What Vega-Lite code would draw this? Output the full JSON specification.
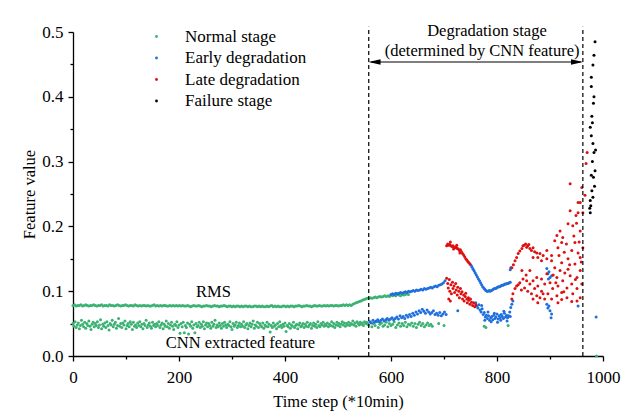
{
"$schema":"https://vega.github.io/schema/vega-lite/v6.json",
"width":530,"height":324,
"autosize":"none",
"padding":{"left":73,"top":32,"right":24,"bottom":64},
"background":"white",
"config":{"font":"Liberation Serif","view":{"stroke":null},
"axis":{"grid":false,"domainColor":"black","tickColor":"black","labelColor":"black","titleColor":"black","labelFont":"Liberation Serif","titleFont":"Liberation Serif","labelFontSize":17,"titleFontSize":16.5,"titleFontWeight":"normal","domainWidth":1.3,"tickWidth":1.3,"labelOverlap":false,"labelFlush":false},
"legend":{"labelFont":"Liberation Serif"},"text":{"font":"Liberation Serif"}},
"datasets":{
"pts":[
{"t":0,"v":0.078,"s":"N"},{"t":3,"v":0.079,"s":"N"},{"t":6,"v":0.077,"s":"N"},{"t":9,"v":0.078,"s":"N"},{"t":12,"v":0.078,"s":"N"},{"t":15,"v":0.079,"s":"N"},{"t":18,"v":0.077,"s":"N"},{"t":21,"v":0.078,"s":"N"},{"t":24,"v":0.079,"s":"N"},{"t":27,"v":0.078,"s":"N"},{"t":30,"v":0.077,"s":"N"},{"t":33,"v":0.078,"s":"N"},{"t":36,"v":0.078,"s":"N"},{"t":39,"v":0.079,"s":"N"},{"t":42,"v":0.078,"s":"N"},{"t":45,"v":0.077,"s":"N"},{"t":48,"v":0.078,"s":"N"},{"t":51,"v":0.078,"s":"N"},{"t":54,"v":0.079,"s":"N"},{"t":57,"v":0.077,"s":"N"},{"t":60,"v":0.078,"s":"N"},{"t":63,"v":0.078,"s":"N"},{"t":66,"v":0.077,"s":"N"},{"t":69,"v":0.079,"s":"N"},{"t":72,"v":0.078,"s":"N"},{"t":75,"v":0.078,"s":"N"},{"t":78,"v":0.077,"s":"N"},{"t":81,"v":0.078,"s":"N"},{"t":84,"v":0.079,"s":"N"},{"t":87,"v":0.078,"s":"N"},{"t":90,"v":0.077,"s":"N"},{"t":93,"v":0.078,"s":"N"},{"t":96,"v":0.078,"s":"N"},{"t":99,"v":0.079,"s":"N"},
{"t":102,"v":0.078,"s":"N"},{"t":105,"v":0.077,"s":"N"},{"t":108,"v":0.078,"s":"N"},{"t":111,"v":0.078,"s":"N"},{"t":114,"v":0.077,"s":"N"},{"t":117,"v":0.079,"s":"N"},{"t":120,"v":0.078,"s":"N"},{"t":123,"v":0.077,"s":"N"},{"t":126,"v":0.078,"s":"N"},{"t":129,"v":0.077,"s":"N"},{"t":132,"v":0.078,"s":"N"},{"t":135,"v":0.078,"s":"N"},{"t":138,"v":0.077,"s":"N"},{"t":141,"v":0.078,"s":"N"},{"t":144,"v":0.077,"s":"N"},{"t":147,"v":0.077,"s":"N"},{"t":150,"v":0.078,"s":"N"},{"t":153,"v":0.079,"s":"N"},{"t":156,"v":0.077,"s":"N"},{"t":159,"v":0.078,"s":"N"},{"t":162,"v":0.077,"s":"N"},{"t":165,"v":0.078,"s":"N"},{"t":168,"v":0.077,"s":"N"},{"t":171,"v":0.078,"s":"N"},{"t":174,"v":0.078,"s":"N"},{"t":177,"v":0.077,"s":"N"},{"t":180,"v":0.077,"s":"N"},{"t":183,"v":0.078,"s":"N"},{"t":186,"v":0.077,"s":"N"},{"t":189,"v":0.078,"s":"N"},{"t":192,"v":0.077,"s":"N"},{"t":195,"v":0.078,"s":"N"},{"t":198,"v":0.077,"s":"N"},{"t":201,"v":0.078,"s":"N"},
{"t":204,"v":0.077,"s":"N"},{"t":207,"v":0.078,"s":"N"},{"t":210,"v":0.077,"s":"N"},{"t":213,"v":0.077,"s":"N"},{"t":216,"v":0.078,"s":"N"},{"t":219,"v":0.077,"s":"N"},{"t":222,"v":0.076,"s":"N"},{"t":225,"v":0.077,"s":"N"},{"t":228,"v":0.078,"s":"N"},{"t":231,"v":0.077,"s":"N"},{"t":234,"v":0.077,"s":"N"},{"t":237,"v":0.078,"s":"N"},{"t":240,"v":0.077,"s":"N"},{"t":243,"v":0.076,"s":"N"},{"t":246,"v":0.077,"s":"N"},{"t":249,"v":0.077,"s":"N"},{"t":252,"v":0.078,"s":"N"},{"t":255,"v":0.077,"s":"N"},{"t":258,"v":0.077,"s":"N"},{"t":261,"v":0.076,"s":"N"},{"t":264,"v":0.077,"s":"N"},{"t":267,"v":0.078,"s":"N"},{"t":270,"v":0.077,"s":"N"},{"t":273,"v":0.077,"s":"N"},{"t":276,"v":0.076,"s":"N"},{"t":279,"v":0.077,"s":"N"},{"t":282,"v":0.077,"s":"N"},{"t":285,"v":0.078,"s":"N"},{"t":288,"v":0.077,"s":"N"},{"t":291,"v":0.076,"s":"N"},{"t":294,"v":0.077,"s":"N"},{"t":297,"v":0.077,"s":"N"},{"t":300,"v":0.076,"s":"N"},
{"t":303,"v":0.077,"s":"N"},{"t":306,"v":0.076,"s":"N"},{"t":309,"v":0.077,"s":"N"},{"t":312,"v":0.077,"s":"N"},{"t":315,"v":0.076,"s":"N"},{"t":318,"v":0.077,"s":"N"},{"t":321,"v":0.076,"s":"N"},{"t":324,"v":0.077,"s":"N"},{"t":327,"v":0.077,"s":"N"},{"t":330,"v":0.076,"s":"N"},{"t":333,"v":0.077,"s":"N"},{"t":336,"v":0.076,"s":"N"},{"t":339,"v":0.076,"s":"N"},{"t":342,"v":0.077,"s":"N"},{"t":345,"v":0.077,"s":"N"},{"t":348,"v":0.076,"s":"N"},{"t":351,"v":0.077,"s":"N"},{"t":354,"v":0.076,"s":"N"},{"t":357,"v":0.077,"s":"N"},{"t":360,"v":0.076,"s":"N"},{"t":363,"v":0.076,"s":"N"},{"t":366,"v":0.077,"s":"N"},{"t":369,"v":0.076,"s":"N"},{"t":372,"v":0.077,"s":"N"},{"t":375,"v":0.078,"s":"N"},{"t":378,"v":0.076,"s":"N"},{"t":381,"v":0.077,"s":"N"},{"t":384,"v":0.076,"s":"N"},{"t":387,"v":0.077,"s":"N"},{"t":390,"v":0.076,"s":"N"},{"t":393,"v":0.076,"s":"N"},{"t":396,"v":0.077,"s":"N"},{"t":399,"v":0.077,"s":"N"},{"t":402,"v":0.076,"s":"N"},
{"t":405,"v":0.077,"s":"N"},{"t":408,"v":0.076,"s":"N"},{"t":411,"v":0.077,"s":"N"},{"t":414,"v":0.077,"s":"N"},{"t":417,"v":0.076,"s":"N"},{"t":420,"v":0.077,"s":"N"},{"t":423,"v":0.077,"s":"N"},{"t":426,"v":0.078,"s":"N"},{"t":429,"v":0.077,"s":"N"},{"t":432,"v":0.076,"s":"N"},{"t":435,"v":0.077,"s":"N"},{"t":438,"v":0.077,"s":"N"},{"t":441,"v":0.078,"s":"N"},{"t":444,"v":0.077,"s":"N"},{"t":447,"v":0.077,"s":"N"},{"t":450,"v":0.076,"s":"N"},{"t":453,"v":0.077,"s":"N"},{"t":456,"v":0.078,"s":"N"},{"t":459,"v":0.077,"s":"N"},{"t":462,"v":0.077,"s":"N"},{"t":465,"v":0.078,"s":"N"},{"t":468,"v":0.077,"s":"N"},{"t":471,"v":0.077,"s":"N"},{"t":474,"v":0.078,"s":"N"},{"t":477,"v":0.077,"s":"N"},{"t":480,"v":0.078,"s":"N"},{"t":483,"v":0.077,"s":"N"},{"t":486,"v":0.078,"s":"N"},{"t":489,"v":0.078,"s":"N"},{"t":492,"v":0.077,"s":"N"},{"t":495,"v":0.078,"s":"N"},{"t":498,"v":0.078,"s":"N"},{"t":501,"v":0.077,"s":"N"},
{"t":504,"v":0.078,"s":"N"},{"t":507,"v":0.078,"s":"N"},{"t":510,"v":0.079,"s":"N"},{"t":513,"v":0.078,"s":"N"},{"t":516,"v":0.079,"s":"N"},{"t":519,"v":0.078,"s":"N"},{"t":522,"v":0.079,"s":"N"},{"t":525,"v":0.078,"s":"N"},{"t":528,"v":0.080,"s":"N"},{"t":531,"v":0.081,"s":"N"},{"t":534,"v":0.082,"s":"N"},{"t":537,"v":0.083,"s":"N"},{"t":540,"v":0.084,"s":"N"},{"t":543,"v":0.085,"s":"N"},{"t":546,"v":0.086,"s":"N"},{"t":549,"v":0.087,"s":"N"},{"t":552,"v":0.088,"s":"N"},{"t":555,"v":0.089,"s":"N"},
{"t":558,"v":0.089,"s":"N"},{"t":561,"v":0.090,"s":"N"},{"t":564,"v":0.089,"s":"N"},{"t":567,"v":0.090,"s":"N"},{"t":570,"v":0.091,"s":"N"},{"t":573,"v":0.090,"s":"N"},{"t":576,"v":0.091,"s":"N"},{"t":579,"v":0.092,"s":"N"},{"t":582,"v":0.091,"s":"N"},{"t":585,"v":0.092,"s":"N"},{"t":588,"v":0.093,"s":"N"},{"t":591,"v":0.092,"s":"N"},{"t":594,"v":0.093,"s":"N"},{"t":597,"v":0.092,"s":"N"},{"t":600,"v":0.094,"s":"N"},{"t":603,"v":0.093,"s":"N"},{"t":606,"v":0.094,"s":"N"},{"t":609,"v":0.093,"s":"N"},{"t":612,"v":0.095,"s":"N"},{"t":615,"v":0.094,"s":"N"},{"t":618,"v":0.093,"s":"N"},{"t":621,"v":0.095,"s":"N"},{"t":624,"v":0.094,"s":"N"},{"t":627,"v":0.095,"s":"N"},{"t":630,"v":0.096,"s":"N"},{"t":633,"v":0.095,"s":"N"},
{"t":0,"v":0.050,"s":"N"},{"t":2,"v":0.046,"s":"N"},{"t":4,"v":0.053,"s":"N"},{"t":6,"v":0.044,"s":"N"},{"t":8,"v":0.048,"s":"N"},{"t":10,"v":0.051,"s":"N"},{"t":12,"v":0.042,"s":"N"},{"t":14,"v":0.047,"s":"N"},{"t":16,"v":0.055,"s":"N"},{"t":18,"v":0.049,"s":"N"},{"t":20,"v":0.045,"s":"N"},{"t":22,"v":0.052,"s":"N"},{"t":24,"v":0.043,"s":"N"},{"t":26,"v":0.050,"s":"N"},{"t":28,"v":0.047,"s":"N"},{"t":30,"v":0.054,"s":"N"},{"t":32,"v":0.046,"s":"N"},{"t":34,"v":0.041,"s":"N"},{"t":36,"v":0.049,"s":"N"},{"t":38,"v":0.052,"s":"N"},
{"t":40,"v":0.045,"s":"N"},{"t":42,"v":0.050,"s":"N"},{"t":44,"v":0.047,"s":"N"},{"t":46,"v":0.053,"s":"N"},{"t":48,"v":0.044,"s":"N"},{"t":50,"v":0.048,"s":"N"},{"t":52,"v":0.056,"s":"N"},{"t":54,"v":0.042,"s":"N"},{"t":56,"v":0.049,"s":"N"},{"t":58,"v":0.046,"s":"N"},{"t":60,"v":0.051,"s":"N"},{"t":62,"v":0.044,"s":"N"},{"t":64,"v":0.053,"s":"N"},{"t":66,"v":0.047,"s":"N"},{"t":68,"v":0.040,"s":"N"},{"t":70,"v":0.050,"s":"N"},{"t":72,"v":0.048,"s":"N"},{"t":74,"v":0.055,"s":"N"},{"t":76,"v":0.045,"s":"N"},{"t":78,"v":0.049,"s":"N"},
{"t":80,"v":0.052,"s":"N"},{"t":82,"v":0.043,"s":"N"},{"t":84,"v":0.047,"s":"N"},{"t":86,"v":0.058,"s":"N"},{"t":88,"v":0.046,"s":"N"},{"t":90,"v":0.050,"s":"N"},{"t":92,"v":0.044,"s":"N"},{"t":94,"v":0.051,"s":"N"},{"t":96,"v":0.048,"s":"N"},{"t":98,"v":0.054,"s":"N"},{"t":100,"v":0.042,"s":"N"},{"t":102,"v":0.047,"s":"N"},{"t":104,"v":0.050,"s":"N"},{"t":106,"v":0.045,"s":"N"},{"t":108,"v":0.053,"s":"N"},{"t":110,"v":0.049,"s":"N"},{"t":112,"v":0.041,"s":"N"},{"t":114,"v":0.052,"s":"N"},{"t":116,"v":0.046,"s":"N"},{"t":118,"v":0.048,"s":"N"},
{"t":120,"v":0.044,"s":"N"},{"t":122,"v":0.051,"s":"N"},{"t":124,"v":0.047,"s":"N"},{"t":126,"v":0.053,"s":"N"},{"t":128,"v":0.045,"s":"N"},{"t":130,"v":0.049,"s":"N"},{"t":132,"v":0.042,"s":"N"},{"t":134,"v":0.050,"s":"N"},{"t":136,"v":0.047,"s":"N"},{"t":138,"v":0.055,"s":"N"},{"t":140,"v":0.044,"s":"N"},{"t":142,"v":0.048,"s":"N"},{"t":144,"v":0.051,"s":"N"},{"t":146,"v":0.046,"s":"N"},{"t":148,"v":0.043,"s":"N"},{"t":150,"v":0.052,"s":"N"},{"t":152,"v":0.047,"s":"N"},{"t":154,"v":0.049,"s":"N"},{"t":156,"v":0.045,"s":"N"},{"t":158,"v":0.050,"s":"N"},
{"t":160,"v":0.047,"s":"N"},{"t":162,"v":0.053,"s":"N"},{"t":164,"v":0.044,"s":"N"},{"t":166,"v":0.048,"s":"N"},{"t":168,"v":0.051,"s":"N"},{"t":170,"v":0.042,"s":"N"},{"t":172,"v":0.049,"s":"N"},{"t":174,"v":0.046,"s":"N"},{"t":176,"v":0.054,"s":"N"},{"t":178,"v":0.045,"s":"N"},{"t":180,"v":0.050,"s":"N"},{"t":182,"v":0.043,"s":"N"},{"t":184,"v":0.048,"s":"N"},{"t":186,"v":0.052,"s":"N"},{"t":188,"v":0.046,"s":"N"},{"t":190,"v":0.041,"s":"N"},{"t":192,"v":0.049,"s":"N"},{"t":194,"v":0.047,"s":"N"},{"t":196,"v":0.053,"s":"N"},{"t":198,"v":0.044,"s":"N"},
{"t":200,"v":0.048,"s":"N"},{"t":202,"v":0.035,"s":"N"},{"t":204,"v":0.050,"s":"N"},{"t":206,"v":0.045,"s":"N"},{"t":208,"v":0.052,"s":"N"},{"t":210,"v":0.036,"s":"N"},{"t":212,"v":0.047,"s":"N"},{"t":214,"v":0.044,"s":"N"},{"t":216,"v":0.051,"s":"N"},{"t":218,"v":0.034,"s":"N"},{"t":220,"v":0.049,"s":"N"},{"t":222,"v":0.046,"s":"N"},{"t":224,"v":0.053,"s":"N"},{"t":226,"v":0.043,"s":"N"},{"t":228,"v":0.048,"s":"N"},{"t":230,"v":0.036,"s":"N"},{"t":232,"v":0.050,"s":"N"},{"t":234,"v":0.045,"s":"N"},{"t":236,"v":0.047,"s":"N"},{"t":238,"v":0.052,"s":"N"},
{"t":240,"v":0.044,"s":"N"},{"t":242,"v":0.049,"s":"N"},{"t":244,"v":0.046,"s":"N"},{"t":246,"v":0.053,"s":"N"},{"t":248,"v":0.042,"s":"N"},{"t":250,"v":0.048,"s":"N"},{"t":252,"v":0.051,"s":"N"},{"t":254,"v":0.045,"s":"N"},{"t":256,"v":0.050,"s":"N"},{"t":258,"v":0.047,"s":"N"},{"t":260,"v":0.043,"s":"N"},{"t":262,"v":0.052,"s":"N"},{"t":264,"v":0.046,"s":"N"},{"t":266,"v":0.049,"s":"N"},{"t":268,"v":0.055,"s":"N"},{"t":270,"v":0.044,"s":"N"},{"t":272,"v":0.048,"s":"N"},{"t":274,"v":0.045,"s":"N"},{"t":276,"v":0.051,"s":"N"},{"t":278,"v":0.047,"s":"N"},
{"t":280,"v":0.043,"s":"N"},{"t":282,"v":0.050,"s":"N"},{"t":284,"v":0.046,"s":"N"},{"t":286,"v":0.052,"s":"N"},{"t":288,"v":0.048,"s":"N"},{"t":290,"v":0.044,"s":"N"},{"t":292,"v":0.049,"s":"N"},{"t":294,"v":0.047,"s":"N"},{"t":296,"v":0.053,"s":"N"},{"t":298,"v":0.045,"s":"N"},{"t":300,"v":0.041,"s":"N"},{"t":302,"v":0.050,"s":"N"},{"t":304,"v":0.046,"s":"N"},{"t":306,"v":0.048,"s":"N"},{"t":308,"v":0.052,"s":"N"},{"t":310,"v":0.044,"s":"N"},{"t":312,"v":0.047,"s":"N"},{"t":314,"v":0.051,"s":"N"},{"t":316,"v":0.045,"s":"N"},{"t":318,"v":0.049,"s":"N"},
{"t":320,"v":0.046,"s":"N"},{"t":322,"v":0.053,"s":"N"},{"t":324,"v":0.044,"s":"N"},{"t":326,"v":0.048,"s":"N"},{"t":328,"v":0.050,"s":"N"},{"t":330,"v":0.042,"s":"N"},{"t":332,"v":0.047,"s":"N"},{"t":334,"v":0.051,"s":"N"},{"t":336,"v":0.045,"s":"N"},{"t":338,"v":0.049,"s":"N"},{"t":340,"v":0.054,"s":"N"},{"t":342,"v":0.043,"s":"N"},{"t":344,"v":0.048,"s":"N"},{"t":346,"v":0.046,"s":"N"},{"t":348,"v":0.052,"s":"N"},{"t":350,"v":0.044,"s":"N"},{"t":352,"v":0.050,"s":"N"},{"t":354,"v":0.047,"s":"N"},{"t":356,"v":0.045,"s":"N"},{"t":358,"v":0.051,"s":"N"},
{"t":360,"v":0.043,"s":"N"},{"t":362,"v":0.048,"s":"N"},{"t":364,"v":0.046,"s":"N"},{"t":366,"v":0.052,"s":"N"},{"t":368,"v":0.045,"s":"N"},{"t":370,"v":0.049,"s":"N"},{"t":372,"v":0.037,"s":"N"},{"t":374,"v":0.047,"s":"N"},{"t":376,"v":0.044,"s":"N"},{"t":378,"v":0.051,"s":"N"},{"t":380,"v":0.046,"s":"N"},{"t":382,"v":0.048,"s":"N"},{"t":384,"v":0.042,"s":"N"},{"t":386,"v":0.050,"s":"N"},{"t":388,"v":0.045,"s":"N"},{"t":390,"v":0.053,"s":"N"},{"t":392,"v":0.047,"s":"N"},{"t":394,"v":0.044,"s":"N"},{"t":396,"v":0.049,"s":"N"},{"t":398,"v":0.046,"s":"N"},
{"t":400,"v":0.051,"s":"N"},{"t":402,"v":0.038,"s":"N"},{"t":404,"v":0.047,"s":"N"},{"t":406,"v":0.045,"s":"N"},{"t":408,"v":0.050,"s":"N"},{"t":410,"v":0.043,"s":"N"},{"t":412,"v":0.048,"s":"N"},{"t":414,"v":0.046,"s":"N"},{"t":416,"v":0.052,"s":"N"},{"t":418,"v":0.044,"s":"N"},{"t":420,"v":0.047,"s":"N"},{"t":422,"v":0.049,"s":"N"},{"t":424,"v":0.042,"s":"N"},{"t":426,"v":0.048,"s":"N"},{"t":428,"v":0.051,"s":"N"},{"t":430,"v":0.045,"s":"N"},{"t":432,"v":0.047,"s":"N"},{"t":434,"v":0.050,"s":"N"},{"t":436,"v":0.044,"s":"N"},{"t":438,"v":0.049,"s":"N"},
{"t":440,"v":0.046,"s":"N"},{"t":442,"v":0.052,"s":"N"},{"t":444,"v":0.045,"s":"N"},{"t":446,"v":0.048,"s":"N"},{"t":448,"v":0.050,"s":"N"},{"t":450,"v":0.043,"s":"N"},{"t":452,"v":0.047,"s":"N"},{"t":454,"v":0.051,"s":"N"},{"t":456,"v":0.046,"s":"N"},{"t":458,"v":0.049,"s":"N"},{"t":460,"v":0.044,"s":"N"},{"t":462,"v":0.053,"s":"N"},{"t":464,"v":0.047,"s":"N"},{"t":466,"v":0.045,"s":"N"},{"t":468,"v":0.050,"s":"N"},{"t":470,"v":0.048,"s":"N"},{"t":472,"v":0.052,"s":"N"},{"t":474,"v":0.046,"s":"N"},{"t":476,"v":0.049,"s":"N"},{"t":478,"v":0.047,"s":"N"},
{"t":480,"v":0.051,"s":"N"},{"t":482,"v":0.045,"s":"N"},{"t":484,"v":0.049,"s":"N"},{"t":486,"v":0.047,"s":"N"},{"t":488,"v":0.053,"s":"N"},{"t":490,"v":0.046,"s":"N"},{"t":492,"v":0.050,"s":"N"},{"t":494,"v":0.044,"s":"N"},{"t":496,"v":0.048,"s":"N"},{"t":498,"v":0.052,"s":"N"},{"t":500,"v":0.047,"s":"N"},{"t":502,"v":0.050,"s":"N"},{"t":504,"v":0.045,"s":"N"},{"t":506,"v":0.049,"s":"N"},{"t":508,"v":0.053,"s":"N"},{"t":510,"v":0.048,"s":"N"},{"t":512,"v":0.051,"s":"N"},{"t":514,"v":0.046,"s":"N"},{"t":516,"v":0.050,"s":"N"},{"t":518,"v":0.048,"s":"N"},
{"t":520,"v":0.052,"s":"N"},{"t":522,"v":0.047,"s":"N"},{"t":524,"v":0.050,"s":"N"},{"t":526,"v":0.049,"s":"N"},{"t":528,"v":0.054,"s":"N"},{"t":530,"v":0.048,"s":"N"},{"t":532,"v":0.051,"s":"N"},{"t":534,"v":0.046,"s":"N"},{"t":536,"v":0.053,"s":"N"},{"t":538,"v":0.050,"s":"N"},{"t":540,"v":0.048,"s":"N"},{"t":542,"v":0.052,"s":"N"},{"t":544,"v":0.049,"s":"N"},{"t":546,"v":0.051,"s":"N"},{"t":548,"v":0.047,"s":"N"},{"t":550,"v":0.053,"s":"N"},{"t":552,"v":0.050,"s":"N"},{"t":554,"v":0.052,"s":"N"},{"t":556,"v":0.049,"s":"N"},
{"t":558,"v":0.048,"s":"N"},{"t":561,"v":0.052,"s":"N"},{"t":564,"v":0.045,"s":"N"},{"t":567,"v":0.050,"s":"N"},{"t":570,"v":0.047,"s":"N"},{"t":573,"v":0.053,"s":"N"},{"t":576,"v":0.044,"s":"N"},{"t":579,"v":0.049,"s":"N"},{"t":582,"v":0.051,"s":"N"},{"t":585,"v":0.046,"s":"N"},{"t":588,"v":0.048,"s":"N"},{"t":591,"v":0.052,"s":"N"},{"t":594,"v":0.045,"s":"N"},{"t":597,"v":0.050,"s":"N"},{"t":600,"v":0.047,"s":"N"},{"t":603,"v":0.049,"s":"N"},{"t":606,"v":0.053,"s":"N"},{"t":609,"v":0.044,"s":"N"},{"t":612,"v":0.048,"s":"N"},{"t":615,"v":0.051,"s":"N"},{"t":618,"v":0.046,"s":"N"},{"t":621,"v":0.050,"s":"N"},{"t":624,"v":0.047,"s":"N"},{"t":627,"v":0.052,"s":"N"},{"t":630,"v":0.045,"s":"N"},{"t":633,"v":0.049,"s":"N"},{"t":636,"v":0.048,"s":"N"},{"t":639,"v":0.051,"s":"N"},{"t":642,"v":0.046,"s":"N"},{"t":645,"v":0.050,"s":"N"},{"t":648,"v":0.044,"s":"N"},{"t":651,"v":0.049,"s":"N"},{"t":654,"v":0.052,"s":"N"},{"t":657,"v":0.047,"s":"N"},{"t":660,"v":0.050,"s":"N"},{"t":663,"v":0.045,"s":"N"},{"t":666,"v":0.048,"s":"N"},{"t":669,"v":0.051,"s":"N"},{"t":672,"v":0.047,"s":"N"},{"t":675,"v":0.049,"s":"N"},{"t":678,"v":0.046,"s":"N"},
{"t":690,"v":0.050,"s":"N"},{"t":700,"v":0.047,"s":"N"},{"t":776,"v":0.046,"s":"N"},{"t":779,"v":0.044,"s":"N"},{"t":821,"v":0.047,"s":"N"},{"t":988,"v":0.000,"s":"N"},
{"t":600,"v":0.095,"s":"E"},{"t":603,"v":0.096,"s":"E"},{"t":606,"v":0.095,"s":"E"},{"t":609,"v":0.097,"s":"E"},{"t":612,"v":0.096,"s":"E"},{"t":615,"v":0.097,"s":"E"},{"t":618,"v":0.098,"s":"E"},{"t":621,"v":0.097,"s":"E"},{"t":624,"v":0.098,"s":"E"},{"t":627,"v":0.099,"s":"E"},{"t":630,"v":0.098,"s":"E"},{"t":633,"v":0.100,"s":"E"},{"t":636,"v":0.099,"s":"E"},{"t":639,"v":0.100,"s":"E"},{"t":642,"v":0.101,"s":"E"},{"t":645,"v":0.100,"s":"E"},{"t":648,"v":0.102,"s":"E"},{"t":651,"v":0.101,"s":"E"},{"t":654,"v":0.102,"s":"E"},{"t":657,"v":0.103,"s":"E"},{"t":660,"v":0.102,"s":"E"},{"t":663,"v":0.104,"s":"E"},{"t":666,"v":0.103,"s":"E"},{"t":669,"v":0.104,"s":"E"},{"t":672,"v":0.105,"s":"E"},{"t":675,"v":0.106,"s":"E"},{"t":678,"v":0.105,"s":"E"},{"t":681,"v":0.107,"s":"E"},{"t":684,"v":0.108,"s":"E"},{"t":687,"v":0.107,"s":"E"},{"t":690,"v":0.109,"s":"E"},{"t":693,"v":0.110,"s":"E"},{"t":696,"v":0.111,"s":"E"},{"t":699,"v":0.113,"s":"E"},{"t":702,"v":0.116,"s":"E"},
{"t":560,"v":0.053,"s":"E"},{"t":563,"v":0.051,"s":"E"},{"t":566,"v":0.055,"s":"E"},{"t":569,"v":0.052,"s":"E"},{"t":572,"v":0.054,"s":"E"},{"t":575,"v":0.056,"s":"E"},{"t":578,"v":0.053,"s":"E"},{"t":581,"v":0.055,"s":"E"},{"t":584,"v":0.057,"s":"E"},{"t":587,"v":0.054,"s":"E"},{"t":590,"v":0.056,"s":"E"},{"t":593,"v":0.058,"s":"E"},{"t":596,"v":0.055,"s":"E"},{"t":599,"v":0.057,"s":"E"},{"t":602,"v":0.059,"s":"E"},{"t":605,"v":0.056,"s":"E"},{"t":608,"v":0.058,"s":"E"},{"t":611,"v":0.060,"s":"E"},{"t":614,"v":0.057,"s":"E"},{"t":617,"v":0.062,"s":"E"},{"t":620,"v":0.059,"s":"E"},{"t":623,"v":0.061,"s":"E"},{"t":626,"v":0.058,"s":"E"},{"t":629,"v":0.063,"s":"E"},{"t":632,"v":0.060,"s":"E"},{"t":635,"v":0.064,"s":"E"},{"t":638,"v":0.061,"s":"E"},{"t":641,"v":0.066,"s":"E"},{"t":644,"v":0.063,"s":"E"},{"t":647,"v":0.068,"s":"E"},{"t":650,"v":0.065,"s":"E"},{"t":653,"v":0.070,"s":"E"},{"t":656,"v":0.067,"s":"E"},{"t":659,"v":0.072,"s":"E"},{"t":662,"v":0.069,"s":"E"},{"t":665,"v":0.066,"s":"E"},{"t":668,"v":0.071,"s":"E"},{"t":671,"v":0.068,"s":"E"},{"t":674,"v":0.065,"s":"E"},{"t":677,"v":0.067,"s":"E"},{"t":680,"v":0.070,"s":"E"},{"t":683,"v":0.064,"s":"E"},{"t":686,"v":0.066,"s":"E"},{"t":689,"v":0.063,"s":"E"},{"t":692,"v":0.067,"s":"E"},{"t":695,"v":0.062,"s":"E"},{"t":698,"v":0.065,"s":"E"},{"t":701,"v":0.068,"s":"E"},{"t":704,"v":0.064,"s":"E"},
{"t":751,"v":0.140,"s":"E"},{"t":753,"v":0.137,"s":"E"},{"t":755,"v":0.134,"s":"E"},{"t":757,"v":0.131,"s":"E"},{"t":759,"v":0.128,"s":"E"},{"t":761,"v":0.125,"s":"E"},{"t":763,"v":0.122,"s":"E"},{"t":765,"v":0.119,"s":"E"},{"t":767,"v":0.116,"s":"E"},{"t":769,"v":0.113,"s":"E"},{"t":771,"v":0.110,"s":"E"},{"t":773,"v":0.107,"s":"E"},{"t":775,"v":0.105,"s":"E"},{"t":777,"v":0.103,"s":"E"},{"t":779,"v":0.101,"s":"E"},{"t":781,"v":0.100,"s":"E"},{"t":783,"v":0.100,"s":"E"},{"t":785,"v":0.101,"s":"E"},{"t":787,"v":0.100,"s":"E"},{"t":789,"v":0.101,"s":"E"},{"t":791,"v":0.102,"s":"E"},{"t":793,"v":0.103,"s":"E"},{"t":795,"v":0.104,"s":"E"},{"t":797,"v":0.104,"s":"E"},{"t":799,"v":0.105,"s":"E"},{"t":801,"v":0.106,"s":"E"},{"t":803,"v":0.107,"s":"E"},{"t":805,"v":0.107,"s":"E"},{"t":807,"v":0.108,"s":"E"},{"t":809,"v":0.109,"s":"E"},{"t":811,"v":0.109,"s":"E"},{"t":813,"v":0.110,"s":"E"},{"t":815,"v":0.111,"s":"E"},{"t":817,"v":0.111,"s":"E"},{"t":819,"v":0.112,"s":"E"},{"t":821,"v":0.112,"s":"E"},{"t":823,"v":0.113,"s":"E"},{"t":825,"v":0.114,"s":"E"},
{"t":760,"v":0.082,"s":"E"},{"t":762,"v":0.077,"s":"E"},{"t":764,"v":0.074,"s":"E"},{"t":766,"v":0.079,"s":"E"},{"t":768,"v":0.071,"s":"E"},{"t":770,"v":0.068,"s":"E"},{"t":772,"v":0.073,"s":"E"},{"t":774,"v":0.064,"s":"E"},{"t":776,"v":0.067,"s":"E"},{"t":778,"v":0.060,"s":"E"},{"t":780,"v":0.063,"s":"E"},{"t":782,"v":0.058,"s":"E"},{"t":784,"v":0.062,"s":"E"},{"t":786,"v":0.055,"s":"E"},{"t":788,"v":0.059,"s":"E"},{"t":790,"v":0.061,"s":"E"},{"t":792,"v":0.056,"s":"E"},{"t":794,"v":0.063,"s":"E"},{"t":796,"v":0.058,"s":"E"},{"t":798,"v":0.060,"s":"E"},{"t":800,"v":0.065,"s":"E"},{"t":802,"v":0.057,"s":"E"},{"t":804,"v":0.062,"s":"E"},{"t":806,"v":0.059,"s":"E"},{"t":808,"v":0.064,"s":"E"},{"t":810,"v":0.061,"s":"E"},{"t":812,"v":0.058,"s":"E"},{"t":814,"v":0.066,"s":"E"},{"t":816,"v":0.060,"s":"E"},{"t":818,"v":0.063,"s":"E"},{"t":820,"v":0.059,"s":"E"},{"t":822,"v":0.062,"s":"E"},{"t":824,"v":0.068,"s":"E"},{"t":826,"v":0.075,"s":"E"},{"t":828,"v":0.080,"s":"E"},
{"t":771,"v":0.078,"s":"E"},{"t":777,"v":0.055,"s":"E"},{"t":783,"v":0.068,"s":"E"},{"t":789,"v":0.053,"s":"E"},{"t":795,"v":0.066,"s":"E"},{"t":801,"v":0.052,"s":"E"},{"t":807,"v":0.055,"s":"E"},{"t":813,"v":0.069,"s":"E"},{"t":819,"v":0.054,"s":"E"},{"t":825,"v":0.061,"s":"E"},{"t":726,"v":0.070,"s":"E"},{"t":826,"v":0.136,"s":"E"},{"t":825,"v":0.133,"s":"E"},{"t":830,"v":0.085,"s":"E"},
{"t":894,"v":0.135,"s":"E"},{"t":896,"v":0.127,"s":"E"},{"t":898,"v":0.130,"s":"E"},{"t":900,"v":0.121,"s":"E"},{"t":903,"v":0.124,"s":"E"},{"t":897,"v":0.119,"s":"E"},{"t":894,"v":0.080,"s":"E"},{"t":896,"v":0.074,"s":"E"},{"t":900,"v":0.070,"s":"E"},{"t":903,"v":0.065,"s":"E"},{"t":902,"v":0.059,"s":"E"},{"t":898,"v":0.077,"s":"E"},{"t":953,"v":0.077,"s":"E"},{"t":987,"v":0.060,"s":"E"},
{"t":705,"v":0.170,"s":"L"},{"t":707,"v":0.173,"s":"L"},{"t":709,"v":0.171,"s":"L"},{"t":711,"v":0.172,"s":"L"},{"t":713,"v":0.170,"s":"L"},{"t":715,"v":0.169,"s":"L"},{"t":717,"v":0.170,"s":"L"},{"t":719,"v":0.168,"s":"L"},{"t":721,"v":0.167,"s":"L"},{"t":723,"v":0.168,"s":"L"},{"t":725,"v":0.166,"s":"L"},{"t":727,"v":0.165,"s":"L"},{"t":729,"v":0.163,"s":"L"},{"t":731,"v":0.164,"s":"L"},{"t":733,"v":0.161,"s":"L"},{"t":735,"v":0.158,"s":"L"},{"t":737,"v":0.156,"s":"L"},{"t":739,"v":0.153,"s":"L"},{"t":741,"v":0.150,"s":"L"},{"t":743,"v":0.148,"s":"L"},{"t":745,"v":0.146,"s":"L"},{"t":747,"v":0.144,"s":"L"},{"t":749,"v":0.142,"s":"L"},{"t":712,"v":0.176,"s":"L"},{"t":718,"v":0.165,"s":"L"},{"t":724,"v":0.171,"s":"L"},{"t":730,"v":0.159,"s":"L"},
{"t":705,"v":0.120,"s":"L"},{"t":707,"v":0.112,"s":"L"},{"t":708,"v":0.105,"s":"L"},{"t":710,"v":0.118,"s":"L"},{"t":711,"v":0.100,"s":"L"},{"t":713,"v":0.110,"s":"L"},{"t":714,"v":0.096,"s":"L"},{"t":716,"v":0.114,"s":"L"},{"t":717,"v":0.104,"s":"L"},{"t":719,"v":0.108,"s":"L"},{"t":720,"v":0.098,"s":"L"},{"t":722,"v":0.112,"s":"L"},{"t":723,"v":0.102,"s":"L"},{"t":725,"v":0.094,"s":"L"},{"t":726,"v":0.106,"s":"L"},{"t":728,"v":0.100,"s":"L"},{"t":729,"v":0.090,"s":"L"},{"t":731,"v":0.104,"s":"L"},{"t":732,"v":0.096,"s":"L"},{"t":734,"v":0.099,"s":"L"},{"t":735,"v":0.088,"s":"L"},{"t":737,"v":0.094,"s":"L"},{"t":738,"v":0.085,"s":"L"},{"t":740,"v":0.092,"s":"L"},{"t":741,"v":0.097,"s":"L"},{"t":743,"v":0.088,"s":"L"},{"t":744,"v":0.082,"s":"L"},{"t":746,"v":0.090,"s":"L"},{"t":747,"v":0.086,"s":"L"},{"t":749,"v":0.080,"s":"L"},{"t":750,"v":0.088,"s":"L"},{"t":752,"v":0.083,"s":"L"},{"t":754,"v":0.078,"s":"L"},{"t":756,"v":0.082,"s":"L"},{"t":758,"v":0.076,"s":"L"},{"t":760,"v":0.079,"s":"L"},{"t":709,"v":0.088,"s":"L"},{"t":712,"v":0.085,"s":"L"},
{"t":828,"v":0.136,"s":"L"},{"t":834,"v":0.147,"s":"L"},{"t":840,"v":0.158,"s":"L"},{"t":847,"v":0.166,"s":"L"},{"t":849,"v":0.170,"s":"L"},{"t":854,"v":0.173,"s":"L"},{"t":858,"v":0.170,"s":"L"},{"t":862,"v":0.166,"s":"L"},{"t":865,"v":0.163,"s":"L"},{"t":868,"v":0.167,"s":"L"},{"t":875,"v":0.159,"s":"L"},{"t":881,"v":0.158,"s":"L"},{"t":877,"v":0.152,"s":"L"},{"t":887,"v":0.155,"s":"L"},{"t":894,"v":0.163,"s":"L"},{"t":884,"v":0.147,"s":"L"},{"t":868,"v":0.152,"s":"L"},{"t":894,"v":0.150,"s":"L"},{"t":903,"v":0.155,"s":"L"},{"t":831,"v":0.141,"s":"L"},{"t":837,"v":0.152,"s":"L"},{"t":843,"v":0.162,"s":"L"},{"t":851,"v":0.171,"s":"L"},{"t":856,"v":0.168,"s":"L"},{"t":860,"v":0.172,"s":"L"},{"t":871,"v":0.161,"s":"L"},
{"t":828,"v":0.088,"s":"L"},{"t":830,"v":0.096,"s":"L"},{"t":834,"v":0.104,"s":"L"},{"t":837,"v":0.108,"s":"L"},{"t":843,"v":0.113,"s":"L"},{"t":849,"v":0.119,"s":"L"},{"t":856,"v":0.116,"s":"L"},{"t":862,"v":0.111,"s":"L"},{"t":868,"v":0.116,"s":"L"},{"t":852,"v":0.105,"s":"L"},{"t":858,"v":0.100,"s":"L"},{"t":865,"v":0.096,"s":"L"},{"t":871,"v":0.104,"s":"L"},{"t":877,"v":0.108,"s":"L"},{"t":884,"v":0.100,"s":"L"},{"t":875,"v":0.093,"s":"L"},{"t":868,"v":0.088,"s":"L"},{"t":881,"v":0.090,"s":"L"},{"t":887,"v":0.096,"s":"L"},{"t":890,"v":0.088,"s":"L"},{"t":862,"v":0.132,"s":"L"},{"t":875,"v":0.121,"s":"L"},{"t":884,"v":0.119,"s":"L"},{"t":847,"v":0.132,"s":"L"},{"t":890,"v":0.111,"s":"L"},{"t":877,"v":0.082,"s":"L"},{"t":840,"v":0.110,"s":"L"},{"t":846,"v":0.102,"s":"L"},{"t":855,"v":0.125,"s":"L"},
{"t":938,"v":0.266,"s":"L"},{"t":960,"v":0.260,"s":"L"},{"t":957,"v":0.237,"s":"L"},{"t":938,"v":0.224,"s":"L"},{"t":953,"v":0.221,"s":"L"},{"t":934,"v":0.204,"s":"L"},{"t":943,"v":0.201,"s":"L"},{"t":919,"v":0.193,"s":"L"},{"t":957,"v":0.193,"s":"L"},{"t":913,"v":0.186,"s":"L"},{"t":924,"v":0.183,"s":"L"},{"t":909,"v":0.178,"s":"L"},{"t":922,"v":0.175,"s":"L"},{"t":931,"v":0.173,"s":"L"},{"t":947,"v":0.175,"s":"L"},{"t":962,"v":0.167,"s":"L"},{"t":915,"v":0.167,"s":"L"},{"t":941,"v":0.163,"s":"L"},{"t":953,"v":0.159,"s":"L"},{"t":957,"v":0.152,"s":"L"},{"t":934,"v":0.150,"s":"L"},{"t":903,"v":0.147,"s":"L"},{"t":922,"v":0.144,"s":"L"},{"t":947,"v":0.142,"s":"L"},{"t":909,"v":0.136,"s":"L"},{"t":934,"v":0.134,"s":"L"},{"t":919,"v":0.132,"s":"L"},{"t":957,"v":0.132,"s":"L"},{"t":894,"v":0.127,"s":"L"},{"t":938,"v":0.124,"s":"L"},{"t":913,"v":0.121,"s":"L"},{"t":951,"v":0.121,"s":"L"},{"t":924,"v":0.116,"s":"L"},{"t":900,"v":0.113,"s":"L"},{"t":941,"v":0.111,"s":"L"},{"t":960,"v":0.111,"s":"L"},{"t":915,"v":0.108,"s":"L"},{"t":932,"v":0.105,"s":"L"},{"t":951,"v":0.104,"s":"L"},{"t":905,"v":0.104,"s":"L"},{"t":922,"v":0.098,"s":"L"},{"t":896,"v":0.096,"s":"L"},{"t":943,"v":0.096,"s":"L"},{"t":913,"v":0.093,"s":"L"},{"t":932,"v":0.090,"s":"L"},{"t":957,"v":0.090,"s":"L"},{"t":903,"v":0.088,"s":"L"},{"t":922,"v":0.087,"s":"L"},{"t":951,"v":0.085,"s":"L"},{"t":915,"v":0.082,"s":"L"},{"t":941,"v":0.084,"s":"L"},
{"t":927,"v":0.160,"s":"L"},{"t":945,"v":0.185,"s":"L"},{"t":950,"v":0.205,"s":"L"},{"t":928,"v":0.128,"s":"L"},{"t":937,"v":0.141,"s":"L"},{"t":917,"v":0.155,"s":"L"},{"t":906,"v":0.125,"s":"L"},{"t":955,"v":0.176,"s":"L"},{"t":948,"v":0.118,"s":"L"},{"t":926,"v":0.099,"s":"L"},{"t":911,"v":0.113,"s":"L"},{"t":959,"v":0.145,"s":"L"},
{"t":970,"v":0.314,"s":"L"},{"t":968,"v":0.297,"s":"L"},{"t":966,"v":0.248,"s":"L"},{"t":949,"v":0.217,"s":"L"},{"t":962,"v":0.221,"s":"L"},{"t":953,"v":0.237,"s":"L"},
{"t":985,"v":0.485,"s":"F"},{"t":983,"v":0.464,"s":"F"},{"t":981,"v":0.449,"s":"F"},{"t":978,"v":0.430,"s":"F"},{"t":978,"v":0.416,"s":"F"},{"t":983,"v":0.400,"s":"F"},{"t":982,"v":0.390,"s":"F"},{"t":979,"v":0.370,"s":"F"},{"t":980,"v":0.360,"s":"F"},{"t":976,"v":0.353,"s":"F"},{"t":978,"v":0.340,"s":"F"},{"t":981,"v":0.328,"s":"F"},{"t":983,"v":0.314,"s":"F"},{"t":986,"v":0.318,"s":"F"},{"t":980,"v":0.300,"s":"F"},{"t":985,"v":0.286,"s":"F"},{"t":978,"v":0.279,"s":"F"},{"t":982,"v":0.276,"s":"F"},{"t":984,"v":0.262,"s":"F"},{"t":979,"v":0.255,"s":"F"},{"t":981,"v":0.245,"s":"F"},{"t":976,"v":0.240,"s":"F"},{"t":977,"v":0.232,"s":"F"},{"t":975,"v":0.228,"s":"F"},{"t":976,"v":0.221,"s":"F"}
]},
"encoding":{
"x":{"field":"t","type":"quantitative","scale":{"domain":[0,1000],"nice":false},
"axis":{"title":"Time step (*10min)","format":"d","values":[0,100,200,300,400,500,600,700,800,900,1000],"labelExpr":"datum.value % 200 === 0 ? datum.label : ''","tickSize":{"condition":{"test":"datum.value % 200 === 0","value":5},"value":3},"labelPadding":8,"titlePadding":8,"labelFont":"Liberation Serif","titleFont":"Liberation Serif"}},
"y":{"field":"v","type":"quantitative","scale":{"domain":[0,0.5],"nice":false},
"axis":{"title":"Feature value","values":[0,0.05,0.1,0.15,0.2,0.25,0.3,0.35,0.4,0.45,0.5],"labelExpr":"round(datum.value*100) % 10 === 0 ? format(datum.value,'.1f') : ''","tickSize":{"condition":{"test":"round(datum.value*100) % 10 === 0","value":5},"value":3},"labelPadding":5,"titlePadding":4,"labelFont":"Liberation Serif","titleFont":"Liberation Serif"}}
},
"layer":[
{"data":{"name":"pts"},"mark":{"type":"circle","size":9,"opacity":1},
"encoding":{"color":{"field":"s","type":"nominal","scale":{"domain":["N","E","L","F"],"range":["#3bb273","#1f6fdd","#dd1111","#000000"]},
"legend":{"title":null,"orient":"none","legendX":75,"legendY":-4,"padding":0,"labelFontSize":17,"labelFont":"Liberation Serif","labelColor":"black","symbolSize":8,"symbolType":"circle","labelOffset":20,"rowPadding":3.5,
"labelExpr":"{'N':'Normal stage','E':'Early degradation','L':'Late degradation','F':'Failure stage'}[datum.label]"}}}},
{"data":{"values":[{"t":558,"v":0,"v2":0.508},{"t":962,"v":0,"v2":0.508}]},"mark":{"type":"rule","color":"black","strokeWidth":1.2,"strokeDash":[4,3]},
"encoding":{"y2":{"field":"v2"}}},
{"data":{"values":[{"t":562,"t2":958,"v":0.4537}]},"mark":{"type":"rule","color":"black","strokeWidth":1.2},
"encoding":{"x2":{"field":"t2"}}},
{"data":{"values":[{"t":569,"v":0.4537,"d":"l"},{"t":951,"v":0.4537,"d":"r"}]},"mark":{"type":"point","filled":true,"color":"black","opacity":1,"size":144,"strokeWidth":0},
"encoding":{"shape":{"field":"d","type":"nominal","scale":{"domain":["l","r"],"range":["M-1,0L1,-0.45L1,0.45Z","M1,0L-1,-0.45L-1,0.45Z"]},"legend":null}}},
{"data":{"values":[{"t":781,"v":0.502,"label":"Degradation stage"},{"t":772,"v":0.471,"label":"(determined by CNN feature)"},{"t":265,"v":0.099,"label":"RMS"},{"t":316,"v":0.020,"label":"CNN extracted feature"}]},
"mark":{"type":"text","fontSize":16.5,"align":"center","baseline":"middle","color":"black","font":"Liberation Serif"},
"encoding":{"text":{"field":"label"}}}
]
}
